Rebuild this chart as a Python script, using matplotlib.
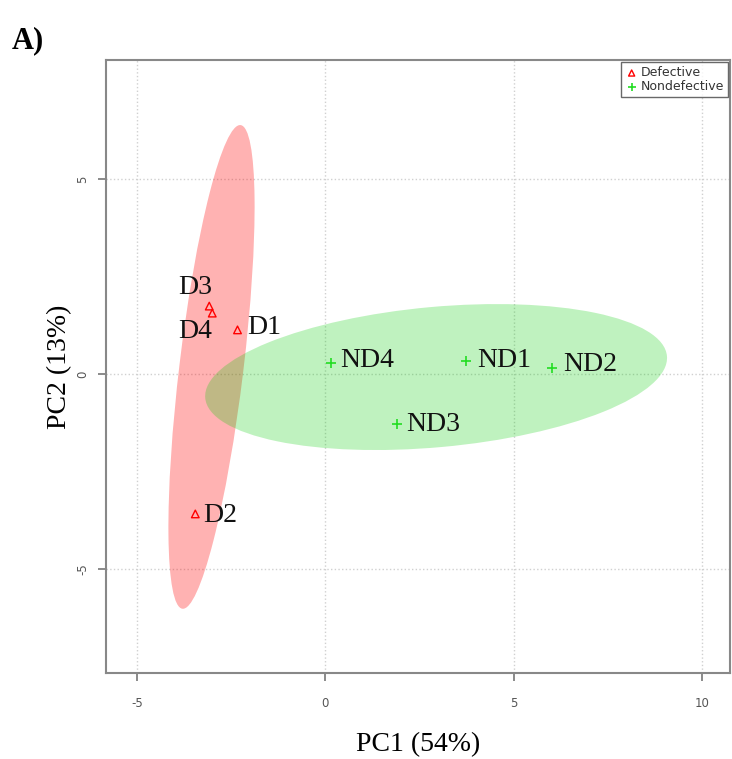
import matplotlib

matplotlib.use("Agg")
import matplotlib.pyplot as plt  # noqa: E402
from matplotlib.patches import Ellipse  # noqa: E402

# sample scores on the first two components
defective_names = ["D1", "D2", "D3", "D4"]
defective_pc1 = [-2.33, -3.45, -3.08, -3.00]
defective_pc2 = [1.13, -3.59, 1.74, 1.56]

nondef_names = ["ND1", "ND2", "ND3", "ND4"]
nondef_pc1 = [3.74, 6.02, 1.91, 0.16]
nondef_pc2 = [0.33, 0.15, -1.28, 0.28]

# confidence ellipses: center x, center y, full width, full height, angle (deg)
defective_ellipse = (-3.02, 0.18, 12.5, 1.7, 82.9)
nondef_ellipse = (2.94, -0.08, 12.3, 3.6, 5.0)

x_ticks = [-5, 0, 5, 10]
y_ticks = [-5, 0, 5]

# label offsets in pixels (dx, dy, ha)
label_offsets = {
    "D1": (10, 2, "left"), "D2": (8, -2, "left"),
    "D3": (3, 19, "right"), "D4": (0, -18, "right"),
    "ND1": (11, 1, "left"), "ND2": (11, 4, "left"),
    "ND3": (9, -1, "left"), "ND4": (9, 3, "left"),
}

serif = ["Liberation Serif", "DejaVu Serif"]

fig = plt.figure(figsize=(7.32, 7.59), dpi=100)
ax = fig.add_axes([0.1448, 0.1133, 0.8525, 0.8076])

ax.set_xlim(-5.82, 10.74)
ax.set_ylim(-7.67, 8.05)

cx, cy, w, h, ang = defective_ellipse
ax.add_patch(Ellipse((cx, cy), w, h, angle=ang, facecolor="#ff0000",
                     alpha=0.3, edgecolor="none", zorder=1))
cx, cy, w, h, ang = nondef_ellipse
ax.add_patch(Ellipse((cx, cy), w, h, angle=ang, facecolor="#00cd00",
                     alpha=0.25, edgecolor="none", zorder=2))

ax.grid(True, color="#d0d0d0", linestyle=":", linewidth=1.0, zorder=0)
ax.set_axisbelow(True)

ax.scatter(defective_pc1, defective_pc2, marker="^", s=30, facecolors="none",
           edgecolors="#ff0000", linewidths=1.0, zorder=4, label="Defective")
ax.scatter(nondef_pc1, nondef_pc2, marker="+", s=45, color="#22dd22",
           linewidths=1.2, zorder=4, label="Nondefective")

for names, xs, ys in [(defective_names, defective_pc1, defective_pc2),
                      (nondef_names, nondef_pc1, nondef_pc2)]:
    for name, x, y in zip(names, xs, ys):
        dx, dy, ha = label_offsets[name]
        ax.annotate(name, (x, y), xytext=(dx, dy), textcoords="offset pixels",
                    ha=ha, va="center", fontsize=20, family=serif,
                    color="#111111", zorder=5)

ax.set_xticks(x_ticks)
ax.set_yticks(y_ticks)
ax.set_xticklabels([str(t) for t in x_ticks], fontsize=8.5, color="#555555")
ax.set_yticklabels([str(t) for t in y_ticks], fontsize=8.5, color="#555555",
                   rotation=90, va="center")
ax.tick_params(axis="x", direction="out", length=6, width=1.2,
               color="#777777", pad=11)
ax.tick_params(axis="y", direction="out", length=6, width=1.2,
               color="#777777", pad=6)

for sp in ax.spines.values():
    sp.set_color("#888888")
    sp.set_linewidth(1.5)

ax.set_xlabel("PC1 (54%)", fontsize=20, family=serif, labelpad=16)
ax.set_ylabel("PC2 (13%)", fontsize=20, family=serif, labelpad=3)

leg = ax.legend(loc="upper right", fontsize=9, frameon=True, fancybox=False,
                borderpad=0.35, handletextpad=0.2, handlelength=1.0,
                labelspacing=0.05, borderaxespad=0.15, markerscale=0.8)
leg.get_frame().set_edgecolor("#444444")
leg.get_frame().set_linewidth(1.0)
for txt in leg.get_texts():
    txt.set_color("#333333")

fig.text(0.016, 0.947, "A)", fontsize=22, fontweight="bold", family=serif,
         ha="left", va="center")

fig.savefig("out.png", dpi=100)
plt.close(fig)
